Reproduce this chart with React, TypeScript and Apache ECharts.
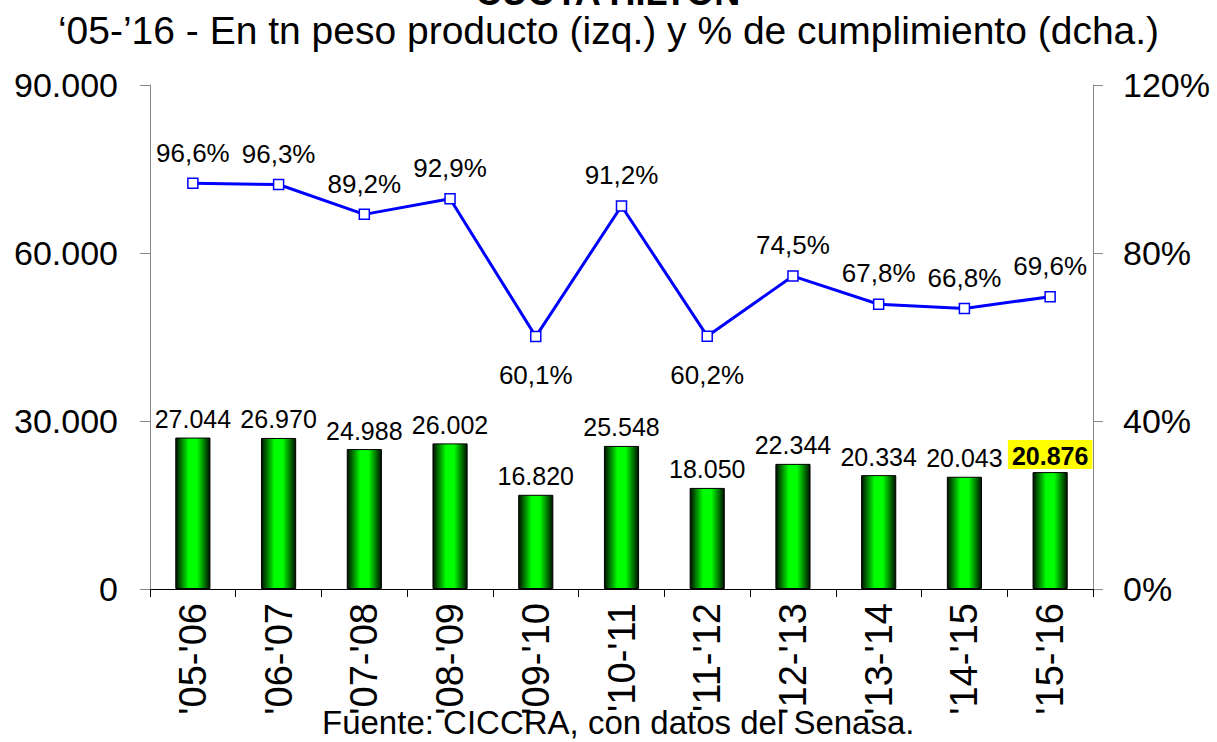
import React, { useEffect, useRef } from "react";
import * as echarts from "echarts";

const categories = ["'05-'06", "'06-'07", "'07-'08", "'08-'09", "'09-'10", "'10-'11", "'11-'12", "'12-'13", "'13-'14", "'14-'15", "'15-'16"];
const tonnes = [27044, 26970, 24988, 26002, 16820, 25548, 18050, 22344, 20334, 20043, 20876];
const compliance = [96.6, 96.3, 89.2, 92.9, 60.1, 91.2, 60.2, 74.5, 67.8, 66.8, 69.6];
const leftTicks = [0, 30000, 60000, 90000];
const rightTicks = [0, 40, 80, 120];
const belowLabelIdx = [4, 6];

const fmtThousands = (v: number) => String(v).replace(/\B(?=(\d{3})+(?!\d))/g, ".");
const FONT = "'Liberation Sans', Arial, sans-serif";

export default function App() {
  const ref = useRef<HTMLDivElement>(null);
  useEffect(() => {
    document.body.style.margin = "0";
    const chart = echarts.init(ref.current!, null, { renderer: "svg" });
    const barGrad = new echarts.graphic.LinearGradient(0, 0, 1, 0, [
      { offset: 0, color: "#001000" },
      { offset: 0.38, color: "#00ff00" },
      { offset: 0.62, color: "#00ff00" },
      { offset: 1, color: "#001000" },
    ]);
    const last = tonnes.length - 1;
    chart.setOption({
      animation: false,
      textStyle: { fontFamily: FONT },
      grid: { left: 150, right: 124, top: 85, bottom: 153 },
      graphic: [
        {
          type: "text",
          left: "center",
          top: -26,
          style: { text: "CUOTA HILTON", font: `bold 36px ${FONT}`, fill: "#000" },
        },
        {
          type: "text",
          left: "center",
          top: 11,
          style: { text: "‘05-’16 - En tn peso producto (izq.) y % de cumplimiento (dcha.)", font: `39px ${FONT}`, fill: "#000" },
        },
        {
          type: "text",
          left: 322,
          top: 706,
          style: { text: "Fuente: CICCRA, con datos del Senasa.", font: `33px ${FONT}`, fill: "#000" },
        },
      ],
      xAxis: {
        type: "category",
        data: categories,
        axisLine: { lineStyle: { color: "#000", width: 1 } },
        axisTick: { show: true, length: 8, lineStyle: { color: "#000" } },
        axisLabel: { rotate: 90, fontSize: 38, color: "#000", margin: 14, interval: 0 },
      },
      yAxis: [
        {
          type: "value",
          min: leftTicks[0],
          max: leftTicks[leftTicks.length - 1],
          interval: leftTicks[1] - leftTicks[0],
          splitLine: { show: false },
          axisLine: { show: true, lineStyle: { color: "#888" } },
          axisTick: { show: true, length: 10, lineStyle: { color: "#888" } },
          axisLabel: { fontSize: 34, color: "#000", margin: 32, formatter: (v: number) => fmtThousands(v) },
        },
        {
          type: "value",
          min: rightTicks[0],
          max: rightTicks[rightTicks.length - 1],
          interval: rightTicks[1] - rightTicks[0],
          splitLine: { show: false },
          axisLine: { show: true, lineStyle: { color: "#888" } },
          axisTick: { show: true, length: 10, lineStyle: { color: "#888" } },
          axisLabel: { fontSize: 34, color: "#000", margin: 30, formatter: (v: number) => v + "%" },
        },
      ],
      series: [
        {
          type: "bar",
          yAxisIndex: 0,
          barWidth: "41%",
          itemStyle: { color: barGrad, borderColor: "#000", borderWidth: 1 },
          label: {
            show: true,
            position: "top",
            distance: 6,
            fontSize: 25,
            color: "#000",
            formatter: (p: any) => fmtThousands(p.value),
          },
          data: tonnes.map((v, i) =>
            i === last
              ? { value: v, label: { fontWeight: "bold", backgroundColor: "#ffff00", padding: [3, 4, 1, 4], distance: 3 } }
              : v
          ),
        },
        {
          type: "line",
          yAxisIndex: 1,
          symbol: "rect",
          symbolSize: 10,
          lineStyle: { color: "#0000ff", width: 3 },
          itemStyle: { color: "#ffffff", borderColor: "#0000ff", borderWidth: 1.5 },
          label: {
            show: true,
            position: "top",
            distance: 12,
            fontSize: 26,
            color: "#000",
            formatter: (p: any) => p.value.toFixed(1).replace(".", ",") + "%",
          },
          data: compliance.map((v, i) =>
            belowLabelIdx.includes(i) ? { value: v, label: { position: "bottom", distance: 20 } } : v
          ),
        },
      ],
    });
    return () => chart.dispose();
  }, []);
  return <div ref={ref} style={{ position: "absolute", left: 0, top: 0, width: 1217, height: 742 }} />;
}
